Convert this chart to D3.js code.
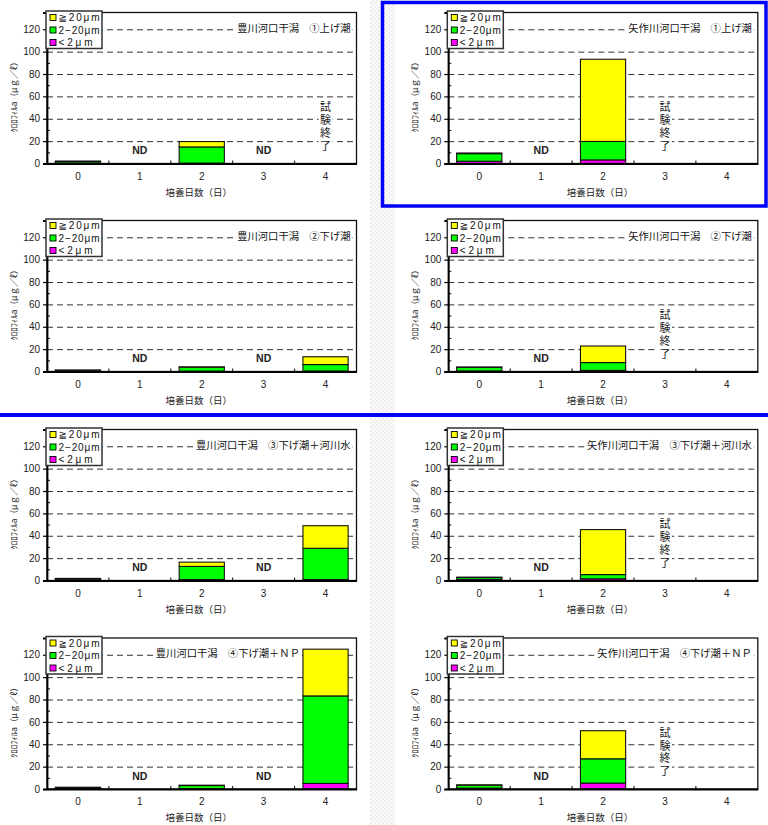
<!DOCTYPE html>
<html>
<head>
<meta charset="utf-8">
<script src="https://cdn.jsdelivr.net/npm/d3@7"></script>
<style>
  body { margin: 0; background: #fff; }
  svg { display: block; }
</style>
</head>
<body>
<svg id="chart" width="768" height="825"></svg>
<script>
// ---- categories, labels ----
const days = ["0", "1", "2", "3", "4"];
const sizeKeys = ["lt2", "mid", "gt20"];              // stacked bottom → top
const sizeColors = ["#FF00FF", "#00FF00", "#FFFF00"];
const legendLabels = ["≧20μm", "2−20μm", "<2μm"];     // legend order top → bottom
const legendColors = ["#FFFF00", "#00FF00", "#FF00FF"];
const yTicks = [0, 20, 40, 60, 80, 100, 120];
const yMinorTicks = [10, 30, 50, 70, 90, 110, 130];
const yGrid = [20, 40, 60, 80, 100, 120];
const yMax = 135;
const xTitle = "培養日数（日）";
const yTitle = "ｸﾛﾛﾌｨﾙa（μｇ／ℓ）";
const endedText = "試験終了";

// ---- chlorophyll a by size class (μg/ℓ); null = no bar ----
// 豊川河口干潟 ①上げ潮
const toyo1Title = "豊川河口干潟　①上げ潮";
const toyo1Lt2  = [0.3, null, 0.3, null, null];
const toyo1Mid  = [1.4, null, 14.5, null, null];
const toyo1Gt20 = [0.5, null, 4.8, null, null];
const toyo1Note = ["", "ND", "", "ND", "END"];
// 矢作川河口干潟 ①上げ潮
const yaha1Title = "矢作川河口干潟　①上げ潮";
const yaha1Lt2  = [2.0, null, 3.2, null, null];
const yaha1Mid  = [6.8, null, 16.5, null, null];
const yaha1Gt20 = [0.6, null, 73.5, null, null];
const yaha1Note = ["", "ND", "", "END", ""];
// 豊川河口干潟 ②下げ潮
const toyo2Title = "豊川河口干潟　②下げ潮";
const toyo2Lt2  = [0.2, null, 0.3, null, 0.4];
const toyo2Mid  = [0.9, null, 3.6, null, 5.8];
const toyo2Gt20 = [0.2, null, 0.2, null, 7.0];
const toyo2Note = ["", "ND", "", "ND", ""];
// 矢作川河口干潟 ②下げ潮
const yaha2Title = "矢作川河口干潟　②下げ潮";
const yaha2Lt2  = [0.5, null, 1.0, null, null];
const yaha2Mid  = [3.2, null, 7.0, null, null];
const yaha2Gt20 = [0.3, null, 14.8, null, null];
const yaha2Note = ["", "ND", "", "END", ""];
// 豊川河口干潟 ③下げ潮＋河川水
const toyo3Title = "豊川河口干潟　③下げ潮＋河川水";
const toyo3Lt2  = [1.3, null, 0.8, null, 0.8];
const toyo3Mid  = [0.4, null, 11.8, null, 28.0];
const toyo3Gt20 = [0.2, null, 3.8, null, 20.2];
const toyo3Note = ["", "ND", "", "ND", ""];
// 矢作川河口干潟 ③下げ潮＋河川水
const yaha3Title = "矢作川河口干潟　③下げ潮＋河川水";
const yaha3Lt2  = [0.8, null, 1.5, null, null];
const yaha3Mid  = [1.8, null, 3.8, null, null];
const yaha3Gt20 = [0.4, null, 40.2, null, null];
const yaha3Note = ["", "ND", "", "END", ""];
// 豊川河口干潟 ④下げ潮＋ＮＰ
const toyo4Title = "豊川河口干潟　④下げ潮＋ＮＰ";
const toyo4Lt2  = [0.3, null, 0.3, null, 5.0];
const toyo4Mid  = [1.0, null, 2.8, null, 78.2];
const toyo4Gt20 = [0.3, null, 0.3, null, 41.8];
const toyo4Note = ["", "ND", "", "ND", ""];
// 矢作川河口干潟 ④下げ潮＋ＮＰ
const yaha4Title = "矢作川河口干潟　④下げ潮＋ＮＰ";
const yaha4Lt2  = [0.8, null, 5.3, null, null];
const yaha4Mid  = [2.6, null, 21.7, null, null];
const yaha4Gt20 = [0.3, null, 25.1, null, null];
const yaha4Note = ["", "ND", "", "END", ""];

const panels = [
  [toyo1Title, toyo1Lt2, toyo1Mid, toyo1Gt20, toyo1Note],
  [yaha1Title, yaha1Lt2, yaha1Mid, yaha1Gt20, yaha1Note],
  [toyo2Title, toyo2Lt2, toyo2Mid, toyo2Gt20, toyo2Note],
  [yaha2Title, yaha2Lt2, yaha2Mid, yaha2Gt20, yaha2Note],
  [toyo3Title, toyo3Lt2, toyo3Mid, toyo3Gt20, toyo3Note],
  [yaha3Title, yaha3Lt2, yaha3Mid, yaha3Gt20, yaha3Note],
  [toyo4Title, toyo4Lt2, toyo4Mid, toyo4Gt20, toyo4Note],
  [yaha4Title, yaha4Lt2, yaha4Mid, yaha4Gt20, yaha4Note]
];

// ---- page layout ----
const colLeft = [47, 448.3];
const rowTop = [12.5, 220.5, 429.5, 638];
const plotW = 309.5;
const plotH = 151;
const legendTextWidths = [41, 41, 34];

const JP = "'Noto Sans CJK JP', 'Noto Sans', sans-serif";
const NUM = "'Liberation Sans', Arial, sans-serif";

const svg = d3.select("#chart");
const defs = svg.append("defs");

// faint page texture between the columns
const pat = defs.append("pattern").attr("id", "grain")
  .attr("width", 4).attr("height", 4).attr("patternUnits", "userSpaceOnUse");
pat.append("rect").attr("width", 4).attr("height", 4).attr("fill", "#fbfbfb");
pat.append("rect").attr("width", 2).attr("height", 2).attr("fill", "#efefef");
pat.append("rect").attr("x", 2).attr("y", 2).attr("width", 2).attr("height", 2).attr("fill", "#efefef");
svg.append("rect").attr("x", 370).attr("y", 0).attr("width", 25).attr("height", 825)
  .attr("fill", "url(#grain)");

panels.forEach((p, i) => {
  const [title, lt2, mid, gt20, note] = p;
  const left = colLeft[i % 2];
  const top = rowTop[Math.floor(i / 2)];
  const g = svg.append("g").attr("transform", `translate(${left},${top})`);

  const x = d3.scaleBand().domain(days).range([0, plotW]).padding(0);
  const y = d3.scaleLinear().domain([0, yMax]).range([plotH, 0]);
  const barW = x.bandwidth() * 0.73;

  // plot background
  g.append("rect").attr("width", plotW).attr("height", plotH).attr("fill", "#fff");

  // dashed gridlines
  g.append("g").attr("class", "grid")
    .call(d3.axisLeft(y).tickValues(yGrid).tickSize(-plotW).tickFormat(""))
    .call(s => s.select(".domain").remove())
    .call(s => s.selectAll("line").attr("stroke", "#333").attr("stroke-width", 1)
      .attr("stroke-dasharray", "6,4"));

  // stacked bars
  const table = days.map((d, k) => ({ day: d, lt2: lt2[k], mid: mid[k], gt20: gt20[k] }))
    .filter(r => r.lt2 !== null);
  const series = d3.stack().keys(sizeKeys)(table);
  series.forEach((s, si) => {
    g.append("g").selectAll("rect").data(s).join("rect")
      .attr("x", d => x(d.data.day) + (x.bandwidth() - barW) / 2)
      .attr("y", d => y(d[1]))
      .attr("width", barW)
      .attr("height", d => y(d[0]) - y(d[1]))
      .attr("fill", sizeColors[si])
      .attr("stroke", "#111")
      .attr("stroke-width", 1.1);
  });

  // frame + axes
  g.append("rect").attr("width", plotW).attr("height", plotH)
    .attr("fill", "none").attr("stroke", "#111").attr("stroke-width", 1.3);

  const yAxis = g.append("g")
    .call(d3.axisLeft(y).tickValues(yTicks).tickSize(4).tickPadding(3))
    .call(s => s.select(".domain").attr("stroke", "#000").attr("stroke-width", 1.8));
  yAxis.selectAll("text").attr("font-family", NUM).attr("font-size", 10).attr("fill", "#222");
  yAxis.selectAll("line").attr("stroke", "#000").attr("stroke-width", 1.2);

  g.append("g")
    .call(d3.axisLeft(y).tickValues(yMinorTicks).tickSize(-3).tickFormat(""))
    .call(s => s.select(".domain").remove())
    .call(s => s.selectAll("line").attr("stroke", "#000"));

  const xAxis = g.append("g").attr("transform", `translate(0,${plotH})`)
    .call(d3.axisBottom(x).tickSize(0).tickPadding(9))
    .call(s => s.select(".domain").attr("stroke", "#000").attr("stroke-width", 1.8));
  xAxis.selectAll("text").attr("font-family", NUM).attr("font-size", 10).attr("fill", "#222");

  // separators between day categories
  g.append("g").selectAll("line").data(days.slice(1)).join("line")
    .attr("x1", d => x(d)).attr("x2", d => x(d))
    .attr("y1", plotH).attr("y2", plotH - 3)
    .attr("stroke", "#000").attr("stroke-width", 1);

  // axis titles
  g.append("text").attr("x", plotW / 2 - 3).attr("y", plotH + 28)
    .attr("text-anchor", "middle").attr("dominant-baseline", "central")
    .attr("font-family", JP).attr("font-size", 9.5).attr("fill", "#222")
    .text(xTitle);
  g.append("text")
    .attr("transform", `translate(-34,${plotH / 2 + 7}) rotate(-90)`)
    .attr("text-anchor", "middle").attr("dominant-baseline", "central")
    .attr("font-family", JP).attr("font-size", 8.5).attr("fill", "#222")
    .attr("textLength", 75).attr("lengthAdjust", "spacingAndGlyphs")
    .text(yTitle);

  // ND and test-ended notes
  note.forEach((n, k) => {
    const cx = x(days[k]) + x.bandwidth() / 2;
    if (n === "ND") {
      g.append("text").attr("x", cx).attr("y", y(12))
        .attr("text-anchor", "middle").attr("dominant-baseline", "central")
        .attr("font-family", "'Liberation Sans Narrow', 'Liberation Sans', sans-serif")
        .attr("font-weight", "bold").attr("font-size", 10.5).attr("fill", "#222")
        .text("ND");
    } else if (n === "END") {
      const yTop = y(50) - 6;
      const colH = 12.8 * endedText.length;
      g.append("rect").attr("x", cx - 7).attr("y", yTop - 1)
        .attr("width", 14).attr("height", colH + 1).attr("fill", "#fff");
      g.append("text").attr("x", cx).attr("y", yTop)
        .style("writing-mode", "vertical-rl")
        .attr("text-anchor", "start")
        .attr("letter-spacing", 1.8)
        .attr("font-family", JP).attr("font-size", 11).attr("fill", "#222")
        .text(endedText);
    }
  });

  // panel title, kept clear of tall bars
  let titleEnd = plotW - 6;
  table.forEach(r => {
    if (r.lt2 + r.mid + r.gt20 > 115) {
      titleEnd = Math.min(titleEnd, x(r.day) + (x.bandwidth() - barW) / 2 - 3);
    }
  });
  const tg = g.append("g");
  const tt = tg.append("text").attr("x", titleEnd).attr("y", 14.5)
    .attr("text-anchor", "end").attr("dominant-baseline", "central")
    .attr("font-family", JP).attr("font-size", 10.3).attr("fill", "#111")
    .text(title);
  const bb = tt.node().getBBox();
  tg.insert("rect", "text").attr("x", bb.x - 2).attr("y", bb.y)
    .attr("width", bb.width + 4).attr("height", bb.height).attr("fill", "#fff");

  // legend
  const lg = g.append("g").attr("transform", "translate(-1,-1.5)");
  lg.append("rect").attr("width", 56).attr("height", 37.5)
    .attr("fill", "#fff").attr("stroke", "#333").attr("stroke-width", 1.5);
  legendLabels.forEach((lab, k) => {
    const ly = 6.5 + k * 12.5;
    lg.append("rect").attr("x", 4).attr("y", ly - 3).attr("width", 6).attr("height", 6)
      .attr("fill", legendColors[k]).attr("stroke", "#000").attr("stroke-width", 0.9);
    lg.append("text").attr("x", 12.5).attr("y", ly + 3.6)
      .attr("font-family", "'Liberation Sans', 'DejaVu Sans', sans-serif")
      .attr("font-size", 10).attr("fill", "#111")
      .attr("textLength", legendTextWidths[k]).attr("lengthAdjust", "spacing")
      .text(lab);
  });
});

// blue highlight frame and row divider
svg.append("rect").attr("x", 382.5).attr("y", 2.5).attr("width", 383.5).attr("height", 203.5)
  .attr("fill", "none").attr("stroke", "#0000FF").attr("stroke-width", 3.5);
svg.append("line").attr("x1", 0).attr("x2", 768).attr("y1", 415).attr("y2", 415)
  .attr("stroke", "#0000FF").attr("stroke-width", 4);
</script>
</body>
</html>
